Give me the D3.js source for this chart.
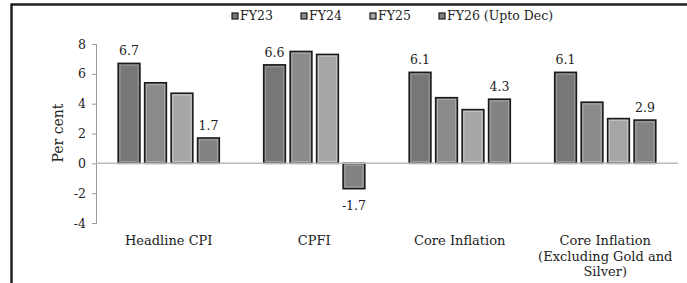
<!DOCTYPE html>
<html>
<head>
<meta charset="utf-8">
<script src="https://cdn.jsdelivr.net/npm/d3@7/dist/d3.min.js"></script>
<style>
  html, body { margin: 0; padding: 0; background: #fff; }
  svg { display: block; }
  text { font-family: "DejaVu Serif", "Liberation Serif", serif; fill: #222; }
</style>
</head>
<body>
<svg id="chart" width="687" height="283"></svg>
<script>
const categories = ["Headline CPI", "CPFI", "Core Inflation", "Core Inflation (Excluding Gold and Silver)"];
const categoryLines = [["Headline CPI"], ["CPFI"], ["Core Inflation"], ["Core Inflation", "(Excluding Gold and", "Silver)"]];
const seriesNames = ["FY23", "FY24", "FY25", "FY26 (Upto Dec)"];
const fy23 = [6.7, 6.6, 6.1, 6.1];
const fy24 = [5.4, 7.5, 4.4, 4.1];
const fy25 = [4.7, 7.3, 3.6, 3.0];
const fy26 = [1.7, -1.7, 4.3, 2.9];
const labelledSeries = ["FY23", "FY26 (Upto Dec)"];
const yTicks = [-4, -2, 0, 2, 4, 6, 8];
const colors = ["#777777", "#8b8b8b", "#a6a6a6", "#838383"];
const highlights = ["#999999", "#aaaaaa", "#c4c4c4", "#a3a3a3"];

const seriesValues = [fy23, fy24, fy25, fy26];
const svg = d3.select("#chart");
const fmtHyphen = f => v => f(v).replace("\u2212", "-");

// frame
svg.append("line").attr("x1", 11).attr("x2", 687).attr("y1", 4.5).attr("y2", 4.5)
  .attr("stroke", "#222").attr("stroke-width", 2.5);
svg.append("line").attr("x1", 11.5).attr("x2", 11.5).attr("y1", 3.5).attr("y2", 283)
  .attr("stroke", "#222").attr("stroke-width", 2.5);

const x = d3.scaleBand().domain(categories).range([96, 678]).padding(0);
const xs = d3.scaleBand().domain(seriesNames).range([22.2, x.bandwidth() - 22.2]).paddingInner(0.18);
const y = d3.scaleLinear().domain([-4, 8]).range([223, 44]);

// y axis
const yAxis = svg.append("g").attr("transform", "translate(96,0)")
  .call(d3.axisLeft(y).tickValues(yTicks).tickSize(4).tickPadding(6).tickFormat(fmtHyphen(d3.format("d"))));
yAxis.select(".domain").attr("stroke", "#999");
yAxis.selectAll(".tick line").attr("stroke", "#999");
yAxis.selectAll(".tick text").attr("font-size", 12.5).attr("fill", "#222")
  .attr("font-family", "\"DejaVu Serif\", serif");

svg.append("text").attr("transform", "translate(63,133) rotate(-90)")
  .attr("text-anchor", "middle").attr("font-size", 14).text("Per cent");

// bars
const data = [];
categories.forEach((c, i) => seriesNames.forEach((s, j) => data.push({ c, s, j, v: seriesValues[j][i] })));

const g = svg.append("g");
g.selectAll("rect.bar").data(data).join("rect").attr("class", "bar")
  .attr("x", d => x(d.c) + xs(d.s))
  .attr("y", d => y(Math.max(0, d.v)))
  .attr("width", xs.bandwidth())
  .attr("height", d => Math.abs(y(d.v) - y(0)))
  .attr("fill", d => colors[d.j])
  .attr("stroke", "#1a1a1a").attr("stroke-width", 1.6);
g.selectAll("rect.hl").data(data).join("rect").attr("class", "hl")
  .attr("x", d => x(d.c) + xs(d.s) + 1.8)
  .attr("y", d => y(Math.max(0, d.v)) + 1.8)
  .attr("width", xs.bandwidth() - 3.6)
  .attr("height", d => Math.max(0, Math.abs(y(d.v) - y(0)) - 3.6))
  .attr("fill", "none")
  .attr("stroke", d => highlights[d.j]).attr("stroke-width", 1);

// zero line
svg.append("line").attr("x1", 96).attr("x2", 678).attr("y1", y(0)).attr("y2", y(0))
  .attr("stroke", "#bbb").attr("stroke-width", 1.5);

// value labels
svg.selectAll("text.val").data(data.filter(d => labelledSeries.includes(d.s))).join("text")
  .attr("class", "val")
  .attr("x", d => x(d.c) + xs(d.s) + xs.bandwidth() / 2)
  .attr("y", d => d.v >= 0 ? y(d.v) - 8 : y(d.v) + 21)
  .attr("text-anchor", "middle").attr("font-size", 12.5)
  .text(d => fmtHyphen(d3.format(".1f"))(d.v));

// category labels
categoryLines.forEach((lines, i) => {
  const t = svg.append("text").attr("text-anchor", "middle").attr("font-size", 13)
    .attr("x", x(categories[i]) + x.bandwidth() / 2).attr("y", 245);
  lines.forEach((ln, k) => t.append("tspan").attr("x", x(categories[i]) + x.bandwidth() / 2)
    .attr("dy", k === 0 ? 0 : 15.5).text(ln));
});

// legend
const legendX = [232, 301, 370, 439];
seriesNames.forEach((s, j) => {
  svg.append("rect").attr("x", legendX[j]).attr("y", 13).attr("width", 6).attr("height", 6)
    .attr("fill", colors[j]).attr("stroke", "#1a1a1a").attr("stroke-width", 1.2);
  svg.append("text").attr("x", legendX[j] + 8).attr("y", 20).attr("font-size", 12.5).text(s);
});
</script>
</body>
</html>
